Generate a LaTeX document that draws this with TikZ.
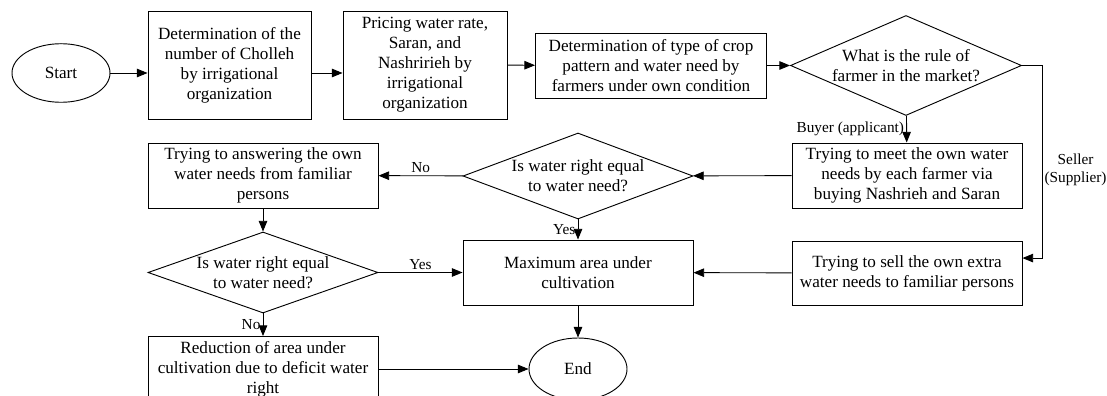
\documentclass[tikz,border=0pt]{standalone}
\usepackage{fontspec}
\setmainfont{Liberation Serif}
\usetikzlibrary{positioning, arrows.meta, calc, shapes.geometric}

\begin{document}
\begin{tikzpicture}[x=0.7pt, y=-0.7pt,
	box/.style={rectangle, draw, line width=0.65pt, align=center, inner sep=0pt,
		minimum width=161pt, minimum height=45.5pt, font=\fontsize{12}{14}\selectfont},
	ask/.style={diamond, draw, line width=0.65pt, align=center, inner sep=-8pt, aspect=2.5,
		minimum width=161pt, font=\fontsize{12}{14}\selectfont},
	term/.style={ellipse, draw, line width=0.65pt, inner sep=0pt,
		minimum width=68.6pt, minimum height=41pt, font=\fontsize{12}{14}\selectfont},
	arr/.style={-{Triangle[length=7.5pt, width=6pt]}, line width=0.65pt},
	lab/.style={font=\fontsize{10.7}{12.5}\selectfont, inner sep=1.5pt}]
		
		\useasboundingbox (0,0) rectangle (1107,396);
		\clip (0,0) rectangle (1107,396);
		
		\node[term] (start) at (61,73) {Start};
		
		% Top row
		\node[box, minimum width=114.1pt, minimum height=75.6pt] (chol) at ($(start) + (168.5,-8)$)
		{Determination of the\\number of Cholleh\\by irrigational\\organization};
		\node[box, minimum width=114.8pt, minimum height=75.6pt] (pric) at ($(start) + (364,-8)$)
		{Pricing water rate,\\Saran, and\\Nashririeh by\\irrigational\\organization};
		\node[box, minimum width=161.7pt] (crop) at ($(start) + (590,-7.5)$)
		{Determination of type of crop\\pattern and water need by\\farmers under own condition};
		\node[ask, minimum width=161.7pt, minimum height=70pt] (rule) at ($(start) + (845,-7.5)$)
		{What is the rule of\\farmer in the market?};
		
		% Middle row
		\node[box] (meet) at ($(start) + (846,102.5)$)
		{Trying to meet the own water\\needs by each farmer via\\buying Nashrieh and Saran};
		\node[ask, minimum height=60.2pt] (eq1) at ($(start) + (517,103)$)
		{Is water right equal\\to water need?};
		\node[box] (ans) at ($(start) + (202,102.5)$)
		{Trying to answering the own\\water needs from familiar\\persons};
		
		% Lower rows
		\node[ask, minimum height=56.7pt] (eq2) at ($(start) + (202,199.5)$)
		{Is water right equal\\to water need?};
		\node[box] (maxa) at ($(start) + (517,199.5)$)
		{Maximum area under\\cultivation};
		\node[box, minimum height=44.8pt] (sell) at ($(start) + (846,200)$)
		{Trying to sell the own extra\\water needs to familiar persons};
		\node[box] (red) at ($(start) + (202,296)$)
		{Reduction of area under\\cultivation due to deficit water\\right};
		\node[term, minimum height=43.4pt] (end) at ($(start) + (517,296)$) {End};
		
		\coordinate (sellin) at ($(sell.north east)!0.27!(sell.south east)$);
		
		% Connections
		\draw[arr] (start) -- (start -| chol.west);
		\draw[arr] (chol.east |- start) -- (start -| pric.west);
		\draw[arr] (pric) -- (crop);
		\draw[arr] (crop) -- (rule);
		\draw[arr] (rule) -- (meet) node[lab, midway, left] {Buyer (applicant)};
		\draw[arr] (rule.east) -- ++(20,0) |- (sellin)
		node[lab, pos=0.27, right, align=center] {Seller\\(Supplier)};
		\draw[arr] (meet) -- (eq1);
		\draw[arr] (eq1) -- (ans) node[lab, midway, above] {No};
		\draw[arr] (eq1) -- (maxa) node[lab, midway, left] {Yes};
		\draw[arr] (ans) -- (eq2);
		\draw[arr] (eq2) -- (maxa) node[lab, midway, above] {Yes};
		\draw[arr] (eq2) -- (red) node[lab, midway, left] {No};
		\draw[arr] (sell) -- (maxa);
		\draw[arr] (maxa) -- (end);
		\draw[arr] (red) -- (end);
	\end{tikzpicture}
\end{document}
